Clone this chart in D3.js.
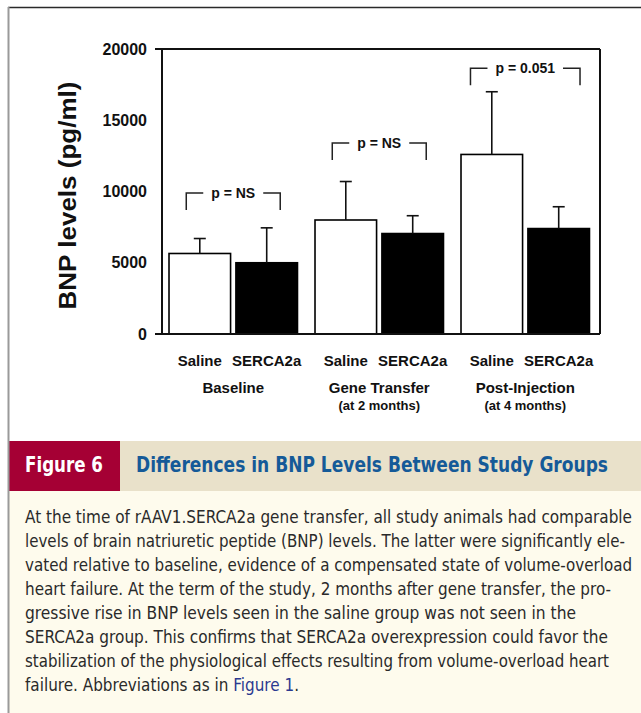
<!DOCTYPE html>
<html>
<head>
<meta charset="utf-8">
<script src="https://d3js.org/d3.v7.min.js"></script>
<style>
  body { margin: 0; background: #fff; }
  svg { display: block; }
  .chart text { font-family: Arial, "Liberation Sans", Helvetica, sans-serif; font-weight: bold; fill: #111; }
  .cap text { font-family: "Liberation Sans Narrow", "Arial Narrow", "DejaVu Sans Condensed", sans-serif; }
</style>
</head>
<body>
<svg id="fig" width="641" height="713"></svg>
<script>
// data
var groups = ["Baseline", "Gene Transfer", "Post-Injection"];
var groupNotes = ["", "(at 2 months)", "(at 4 months)"];
var treatments = ["Saline", "SERCA2a"];
var salineMean = [5650, 8000, 12600];
var salineSD = [1050, 2700, 4400];
var sercaMean = [5000, 7050, 7400];
var sercaSD = [2450, 1250, 1530];
var pLabels = ["p = NS", "p = NS", "p = 0.051"];
var bracketLevel = [9900, 13400, 18650];
var yTicks = [0, 5000, 10000, 15000, 20000];

var captionLines = [
  "At the time of rAAV1.SERCA2a gene transfer, all study animals had comparable",
  "levels of brain natriuretic peptide (BNP) levels. The latter were significantly ele-",
  "vated relative to baseline, evidence of a compensated state of volume-overload",
  "heart failure. At the term of the study, 2 months after gene transfer, the pro-",
  "gressive rise in BNP levels seen in the saline group was not seen in the",
  "SERCA2a group. This confirms that SERCA2a overexpression could favor the",
  "stabilization of the physiological effects resulting from volume-overload heart",
  "failure. Abbreviations as in "
];
var lineEnds = [632, 625, 632, 611, 576, 608, 609, 299];

var svg = d3.select("#fig");

// page frame
svg.append("rect").attr("x", 9).attr("y", 7).attr("width", 632).attr("height", 434).attr("fill", "#fff");

var chart = svg.append("g").attr("class", "chart");

var pLeft = 162, pRight = 600, pTop = 49, pBottom = 334;

var y = d3.scaleLinear().domain([0, 20000]).range([pBottom, pTop]);
var x0 = d3.scaleBand().domain(groups).range([pLeft, pRight])
  .paddingInner(0.12).paddingOuter(0.06).align(0.4);
var x1 = d3.scaleBand().domain(treatments).range([0, x0.bandwidth()]).paddingInner(0.08);

var rows = [];
groups.forEach(function(g, i) {
  rows.push({ g: g, t: "Saline", mean: salineMean[i], sd: salineSD[i] });
  rows.push({ g: g, t: "SERCA2a", mean: sercaMean[i], sd: sercaSD[i] });
});

// bars
chart.selectAll("rect.bar").data(rows).enter().append("rect")
  .attr("class", "bar")
  .attr("x", function(d) { return x0(d.g) + x1(d.t); })
  .attr("y", function(d) { return y(d.mean); })
  .attr("width", x1.bandwidth())
  .attr("height", function(d) { return y(0) - y(d.mean); })
  .attr("fill", function(d) { return d.t == "Saline" ? "#fff" : "#000"; })
  .attr("stroke", "#000").attr("stroke-width", 1.6);

// error bars (upper only)
var eb = chart.selectAll("g.err").data(rows).enter().append("g").attr("class", "err")
  .attr("stroke", "#111").attr("stroke-width", 1.6);
eb.append("line")
  .attr("x1", function(d) { return x0(d.g) + x1(d.t) + x1.bandwidth() / 2; })
  .attr("x2", function(d) { return x0(d.g) + x1(d.t) + x1.bandwidth() / 2; })
  .attr("y1", function(d) { return y(d.mean); })
  .attr("y2", function(d) { return y(d.mean + d.sd); });
eb.append("line")
  .attr("x1", function(d) { return x0(d.g) + x1(d.t) + x1.bandwidth() / 2 - 6; })
  .attr("x2", function(d) { return x0(d.g) + x1(d.t) + x1.bandwidth() / 2 + 6; })
  .attr("y1", function(d) { return y(d.mean + d.sd); })
  .attr("y2", function(d) { return y(d.mean + d.sd); });

// plot box
var box = chart.append("g").attr("stroke", "#111").attr("stroke-width", 2);
box.append("line").attr("x1", pLeft - 7).attr("x2", pRight).attr("y1", pTop).attr("y2", pTop);
box.append("line").attr("x1", pLeft - 7).attr("x2", pRight).attr("y1", pBottom).attr("y2", pBottom);
box.append("line").attr("x1", pLeft).attr("x2", pLeft).attr("y1", pTop).attr("y2", pBottom);
box.append("line").attr("x1", pRight).attr("x2", pRight).attr("y1", pTop).attr("y2", pBottom);

// y axis labels
var yAxis = chart.append("g").attr("transform", "translate(" + pLeft + ",0)")
  .call(d3.axisLeft(y).tickValues(yTicks).tickSize(0).tickPadding(15).tickFormat(d3.format("d")));
yAxis.select(".domain").remove();
yAxis.selectAll("text").attr("font-size", 16).attr("font-family", null).attr("fill", "#111");

chart.append("text")
  .attr("transform", "translate(76," + ((pTop + pBottom) / 2 + 4) + ") rotate(-90)")
  .attr("text-anchor", "middle").attr("font-size", 24)
  .attr("textLength", 228).attr("lengthAdjust", "spacingAndGlyphs")
  .text("BNP levels (pg/ml)");

// significance brackets
groups.forEach(function(g, i) {
  var cx = x0(g) + x0.bandwidth() / 2;
  var yb = y(bracketLevel[i]);
  var t = chart.append("text").attr("x", cx).attr("y", yb + 5)
    .attr("text-anchor", "middle").attr("font-size", 14).text(pLabels[i]);
  var hw = t.node().getComputedTextLength() / 2;
  var l = cx - hw - 8, r = cx + hw + 8;
  chart.append("path")
    .attr("d", "M" + l + "," + yb + "H" + (l - 17) + "V" + (yb + 17) +
               "M" + r + "," + yb + "H" + (r + 17) + "V" + (yb + 17))
    .attr("fill", "none").attr("stroke", "#222").attr("stroke-width", 1.5);
});

// x labels
chart.selectAll("text.tl").data(rows).enter().append("text").attr("class", "tl")
  .attr("x", function(d) { return x0(d.g) + x1(d.t) + x1.bandwidth() / 2; })
  .attr("y", 366).attr("text-anchor", "middle").attr("font-size", 15)
  .text(function(d) { return d.t; });
chart.selectAll("text.gl").data(groups).enter().append("text").attr("class", "gl")
  .attr("x", function(d) { return x0(d) + x0.bandwidth() / 2; })
  .attr("y", 393).attr("text-anchor", "middle").attr("font-size", 15)
  .text(function(d) { return d; });
chart.selectAll("text.gn").data(groupNotes).enter().append("text").attr("class", "gn")
  .attr("x", function(d, i) { return x0(groups[i]) + x0.bandwidth() / 2; })
  .attr("y", 410).attr("text-anchor", "middle").attr("font-size", 13)
  .text(function(d) { return d; });

// caption
var cap = svg.append("g").attr("class", "cap");
cap.append("rect").attr("x", 8).attr("y", 441).attr("width", 112).attr("height", 50).attr("fill", "#a50034");
cap.append("rect").attr("x", 120).attr("y", 441).attr("width", 521).attr("height", 50).attr("fill", "#e9e1ca");
cap.append("rect").attr("x", 9).attr("y", 491).attr("width", 632).attr("height", 222).attr("fill", "#fefbed");
cap.append("text").attr("x", 25).attr("y", 472).attr("font-size", 21).attr("font-weight", "bold")
  .attr("fill", "#fff").attr("textLength", 78).attr("lengthAdjust", "spacingAndGlyphs").text("Figure 6");
cap.append("text").attr("x", 136).attr("y", 472).attr("font-size", 21).attr("font-weight", "bold")
  .attr("fill", "#155a98").attr("textLength", 472).attr("lengthAdjust", "spacingAndGlyphs")
  .text("Differences in BNP Levels Between Study Groups");

captionLines.forEach(function(s, i) {
  var t = cap.append("text").attr("x", 25).attr("y", 523 + i * 24)
    .attr("font-size", 17).attr("fill", "#2a2a2a")
    .attr("textLength", lineEnds[i] - 25).attr("lengthAdjust", "spacingAndGlyphs");
  t.append("tspan").text(s);
  if (i == captionLines.length - 1) {
    t.append("tspan").attr("fill", "#2b3990").text("Figure 1");
    t.append("tspan").text(".");
  }
});

// frame lines
svg.append("line").attr("x1", 8).attr("x2", 641).attr("y1", 7.5).attr("y2", 7.5)
  .attr("stroke", "#2a2a2a").attr("stroke-width", 1.5);
svg.append("line").attr("x1", 8.5).attr("x2", 8.5).attr("y1", 7).attr("y2", 713)
  .attr("stroke", "#9a9a9a").attr("stroke-width", 2);
</script>
</body>
</html>
